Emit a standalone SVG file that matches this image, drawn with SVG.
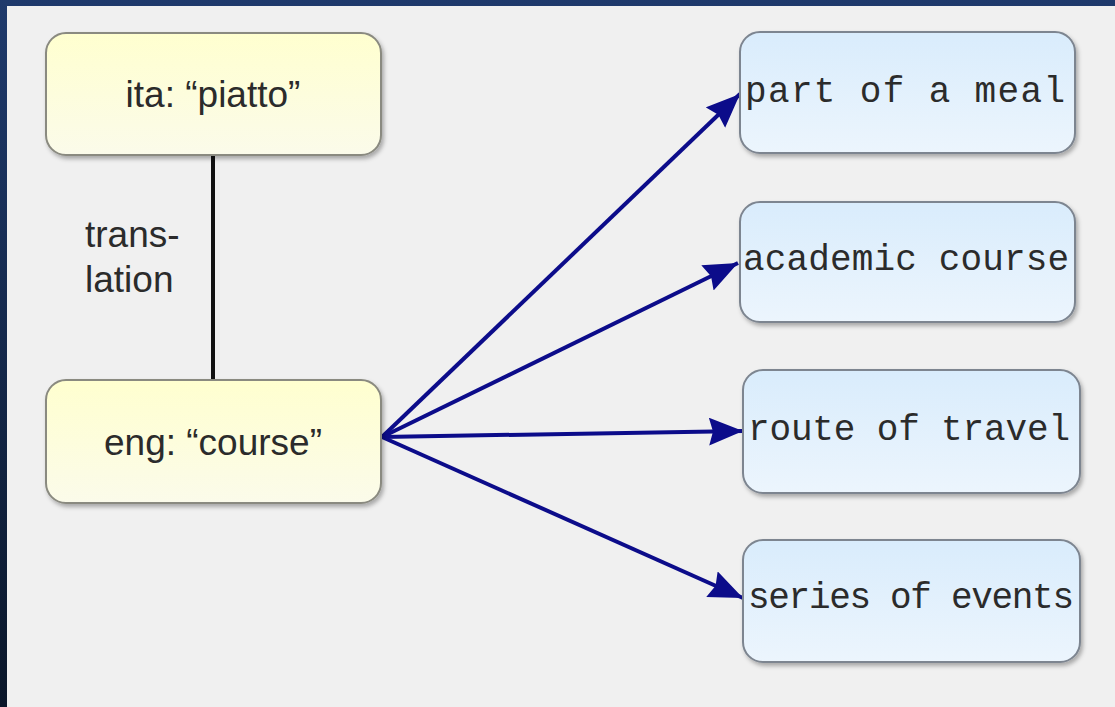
<svg xmlns="http://www.w3.org/2000/svg" width="1115" height="707" viewBox="0 0 1115 707">
  <defs>
    <linearGradient id="frame" x1="0" y1="0" x2="0" y2="1">
      <stop offset="0" stop-color="#1f3a6c"/>
      <stop offset="1" stop-color="#0a1629"/>
    </linearGradient>
    <linearGradient id="yellow" x1="0" y1="0" x2="0" y2="1">
      <stop offset="0" stop-color="#ffffcf"/>
      <stop offset="1" stop-color="#fbfbea"/>
    </linearGradient>
    <linearGradient id="blue" x1="0" y1="0" x2="0" y2="1">
      <stop offset="0" stop-color="#d9ecfc"/>
      <stop offset="1" stop-color="#ecf5fd"/>
    </linearGradient>
    <filter id="shadow" x="-5%" y="-5%" width="115%" height="120%">
      <feDropShadow dx="2" dy="3" stdDeviation="2" flood-color="#000" flood-opacity="0.3"/>
    </filter>
    <marker id="arrow" markerUnits="userSpaceOnUse" markerWidth="36" markerHeight="30" refX="34" refY="14" orient="auto">
      <path d="M0,0 L34,14 L0,28 L4,14 Z" fill="#0c0c8a"/>
    </marker>
  </defs>
  <style>
    .ynode { fill: url(#yellow); stroke: #8a8a80; stroke-width: 2; filter: url(#shadow); }
    .bnode { fill: url(#blue); stroke: #7d8590; stroke-width: 2; filter: url(#shadow); }
    .sans { font-family: "Liberation Sans", Arial, sans-serif; font-size: 37px; fill: #2b2b2b; }
    .mono { font-family: "Liberation Mono", "Courier New", monospace; font-size: 36px; fill: #2b2b2b; }
    .arrow { stroke: #0c0c8a; stroke-width: 4; fill: none; marker-end: url(#arrow); }
  </style>
  <rect x="0" y="0" width="1115" height="707" fill="url(#frame)"/>
  <rect x="7" y="6" width="1108" height="701" fill="#f0f0f0"/>

  <g id="connectors">
    <line x1="213" y1="155" x2="213" y2="380" stroke="#111" stroke-width="4"/>
    <line class="arrow" x1="382" y1="437" x2="740" y2="94"/>
    <line class="arrow" x1="382" y1="437" x2="738" y2="263"/>
    <line class="arrow" x1="382" y1="437" x2="743" y2="431"/>
    <line class="arrow" x1="382" y1="437" x2="743" y2="598"/>
  </g>

  <g id="label-translation">
    <text class="sans" x="85" y="247" font-size="35">trans-</text>
    <text class="sans" x="85" y="292" font-size="35">lation</text>
  </g>

  <g id="node-ita">
    <rect class="ynode" x="46" y="33" width="335" height="122" rx="20"/>
    <text class="sans" x="213" y="107" text-anchor="middle">ita: “piatto”</text>
  </g>
  <g id="node-eng">
    <rect class="ynode" x="46" y="380" width="335" height="123" rx="20"/>
    <text class="sans" x="213" y="455" text-anchor="middle">eng: “course”</text>
  </g>

  <g id="node-meal">
    <rect class="bnode" x="740" y="32" width="335" height="121" rx="20"/>
    <text class="mono" x="745" y="102" textLength="320">part of a meal</text>
  </g>
  <g id="node-academic">
    <rect class="bnode" x="740" y="202" width="335" height="120" rx="20"/>
    <text class="mono" x="743" y="270" textLength="326">academic course</text>
  </g>
  <g id="node-route">
    <rect class="bnode" x="743" y="370" width="337" height="123" rx="20"/>
    <text class="mono" x="748" y="440" textLength="322">route of travel</text>
  </g>
  <g id="node-series">
    <rect class="bnode" x="743" y="540" width="337" height="122" rx="20"/>
    <text class="mono" x="748" y="608" textLength="326">series of events</text>
  </g>
</svg>
